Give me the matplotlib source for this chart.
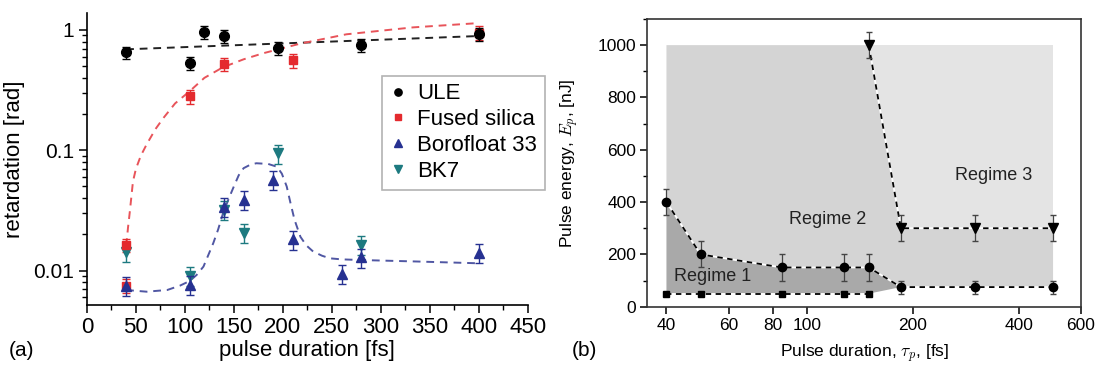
import numpy as np
import matplotlib.pyplot as plt
from matplotlib.ticker import FixedLocator, MultipleLocator, NullFormatter, LogLocator

plt.rcParams['font.family'] = ['Liberation Sans', 'DejaVu Sans']
plt.rcParams['mathtext.fontset'] = 'cm'

# ---- (a) retardation vs pulse duration ----
ule_x = [40, 105, 120, 140, 195, 280, 400]
ule_y = [0.65, 0.53, 0.96, 0.89, 0.71, 0.75, 0.92]
fs_x = [40, 40, 105, 140, 210, 400]
fs_y = [0.0163, 0.0075, 0.28, 0.52, 0.56, 0.95]
boro_x = [40, 105, 140, 160, 190, 210, 260, 280, 400]
boro_y = [0.0075, 0.0076, 0.034, 0.0386, 0.0567, 0.0182, 0.0094, 0.0129, 0.0141]
bk7_x = [40, 105, 140, 160, 195, 280]
bk7_y = [0.0144, 0.0091, 0.032, 0.0207, 0.094, 0.0163]

# fit curves
ule_fit_x = [40, 400]
ule_fit_y = [0.69, 0.89]
fs_fit_x = [40, 41, 42, 43, 44, 45.5, 47, 50, 55, 61, 70, 78, 90, 105, 120, 139, 160, 180, 218, 265, 333, 400]
fs_fit_y = [0.016, 0.019, 0.023, 0.027, 0.032, 0.042, 0.055, 0.07, 0.09, 0.112, 0.15, 0.185, 0.245, 0.31,
            0.40, 0.49, 0.57, 0.64, 0.77, 0.92, 1.05, 1.14]
boro_fit_x = [40, 61, 82, 95, 105, 112, 119, 124, 129, 134, 139, 145, 150, 155, 160, 167, 173, 185, 194,
              199, 204, 208, 212, 218, 224, 231, 240, 248, 260, 279, 337, 400]
boro_fit_y = [0.0069, 0.00668, 0.0069, 0.0075, 0.0082, 0.0092, 0.0108, 0.0135, 0.0169, 0.022, 0.030, 0.040,
              0.050, 0.062, 0.071, 0.076, 0.078, 0.077, 0.073, 0.064, 0.050, 0.036, 0.0264, 0.0191, 0.0162,
              0.0144, 0.0133, 0.01265, 0.0124, 0.01225, 0.0119, 0.0115]

# ---- (b) regime map ----
tau_low = [40, 50, 85, 128, 150]
E_low = [50, 50, 50, 50, 50]
tau_up = [40, 50, 85, 128, 150, 185, 300, 500]
E_up = [400, 200, 150, 150, 150, 75, 75, 75]
err_up = [50, 50, 50, 50, 50, 25, 25, 25]
tau_r3 = [150, 185, 300, 500]
E_r3 = [1000, 300, 300, 300]
err_r3 = [50, 50, 50, 50]

fig = plt.figure(figsize=(10.99, 3.67), dpi=100)

# ================= panel (a) =================
ax = fig.add_axes([0.0791, 0.169, 0.401, 0.795])
c_red = '#e42a2e'
c_blue = '#263191'
c_teal = '#1d7a80'

ax.plot(ule_fit_x, ule_fit_y, color='#222222', lw=1.4, dashes=(4, 3))
ax.plot(fs_fit_x, fs_fit_y, color='#e8545a', lw=1.4, dashes=(4, 3))
ax.plot(boro_fit_x, boro_fit_y, color='#5057a3', lw=1.4, dashes=(4, 3))

ule_y = np.array(ule_y)
fs_y = np.array(fs_y)
boro_y = np.array(boro_y)
bk7_y = np.array(bk7_y)
ax.errorbar(bk7_x, bk7_y, yerr=0.18 * bk7_y, fmt='v', color=c_teal, ms=7.5, capsize=3, elinewidth=1,
            label='BK7', zorder=3)
ax.errorbar(boro_x, boro_y, yerr=0.18 * boro_y, fmt='^', color=c_blue, ms=7.5, capsize=3, elinewidth=1,
            label='Borofloat 33', zorder=4)
ax.errorbar(fs_x, fs_y, yerr=0.13 * fs_y, fmt='s', color=c_red, ms=6, capsize=3, elinewidth=1,
            label='Fused silica', zorder=3)
ax.errorbar(ule_x, ule_y, yerr=0.12 * ule_y, fmt='o', color='black', ms=7, capsize=3, elinewidth=1,
            label='ULE', zorder=5)

ax.set_yscale('log')
ax.set_xlim(0, 450)
ax.set_ylim(0.00518, 1.377)
ax.xaxis.set_major_locator(MultipleLocator(50))
ax.xaxis.set_minor_locator(MultipleLocator(25))
ax.yaxis.set_major_locator(FixedLocator([0.01, 0.1, 1]))
ax.yaxis.set_minor_locator(LogLocator(base=10, subs=np.arange(2, 10)))
ax.yaxis.set_minor_formatter(NullFormatter())
ax.set_yticklabels(['0.01', '0.1', '1'])
ax.spines['top'].set_visible(False)
ax.spines['right'].set_visible(False)
for s in ['left', 'bottom']:
    ax.spines[s].set_linewidth(1.2)
ax.tick_params(which='major', length=6, width=1.1, labelsize=16, pad=3)
ax.tick_params(which='minor', length=3.5, width=1)
ax.tick_params(axis='y', labelsize=15)
ax.set_xlabel('pulse duration [fs]', fontsize=16, labelpad=1)
ax.set_ylabel('retardation [rad]', fontsize=16)
ax.yaxis.set_label_coords(-0.14, 0.5)

handles, labels = ax.get_legend_handles_labels()
order = [3, 2, 1, 0]
leg = ax.legend([handles[i][0] for i in order], [labels[i] for i in order], loc='upper left',
                bbox_to_anchor=(0.348, 0.794), bbox_transform=fig.transFigure, borderaxespad=0,
                fontsize=16, frameon=True, fancybox=False, handlelength=0.7, handletextpad=0.5,
                labelspacing=0.22, borderpad=0.35, markerscale=0.75)
leg.get_frame().set_edgecolor('#a0a0a0')
leg.get_frame().set_linewidth(1.2)

fig.text(0.008, 0.03, '(a)', fontsize=15)

# ================= panel (b) =================
bx = fig.add_axes([0.589, 0.1643, 0.3946, 0.784])

top = E_r3[0]
r1_x = tau_up[:6] + [tau_low[-1], tau_low[0]]
r1_y = E_up[:6] + [E_low[-1], E_low[0]]
r2_x = [tau_up[0], tau_r3[0]] + tau_r3[1:] + tau_up[::-1]
r2_y = [top, top] + E_r3[1:] + E_up[::-1]
r3_x = [tau_r3[0], tau_r3[-1]] + tau_r3[::-1][:-1]
r3_y = [top, top] + E_r3[::-1][:-1]
bx.fill(r3_x, r3_y, color='#e4e4e4', lw=0, zorder=0)
bx.fill(r2_x, r2_y, color='#d4d4d4', lw=0, zorder=0)
bx.fill(r1_x, r1_y, color='#a9a9a9', lw=0, zorder=1)

for xs, ys in [(tau_low, E_low), (tau_up, E_up), (tau_r3, E_r3)]:
    bx.plot(xs, ys, color='white', lw=1.3, zorder=2)
    bx.plot(xs, ys, color='black', lw=1.3, dashes=(3, 2.5), zorder=3)

bx.errorbar(tau_up, E_up, yerr=err_up, fmt='none', ecolor='#444444', elinewidth=0.9, capsize=2.5, zorder=4)
bx.errorbar(tau_r3, E_r3, yerr=err_r3, fmt='none', ecolor='#444444', elinewidth=0.9, capsize=2.5, zorder=4)
bx.plot(tau_low, E_low, 's', color='black', ms=5, zorder=5)
bx.plot(tau_up, E_up, 'o', color='black', ms=6, zorder=5)
bx.plot(tau_r3, E_r3, 'v', color='black', ms=6.5, zorder=5)

bx.text(54, 117, 'Regime 1', fontsize=13, ha='center', va='center', color='#222222')
bx.text(115, 333, 'Regime 2', fontsize=13, ha='center', va='center', color='#222222')
bx.text(339, 500, 'Regime 3', fontsize=13, ha='center', va='center', color='#222222')

bx.set_xscale('log')
bx.set_xlim(35.3, 600)
bx.set_ylim(0, 1100)
bx.xaxis.set_major_locator(FixedLocator([40, 60, 80, 100, 200, 400, 600]))
bx.xaxis.set_minor_locator(FixedLocator([]))
bx.set_xticklabels(['40', '60', '80', '100', '200', '400', '600'])
bx.yaxis.set_major_locator(MultipleLocator(200))
bx.yaxis.set_minor_locator(MultipleLocator(100))
for s in bx.spines.values():
    s.set_linewidth(1.2)
    s.set_color('#333333')
bx.tick_params(which='major', length=5, width=1.1, labelsize=12.5, pad=3)
bx.tick_params(which='minor', length=3, width=1)
bx.set_xlabel(r'Pulse duration, $\tau_p$, [fs]', fontsize=12.5, labelpad=7)
bx.set_ylabel(r'Pulse energy, $E_p$, [nJ]', fontsize=12.5)
bx.yaxis.set_label_coords(-0.153, 0.5)

fig.text(0.52, 0.03, '(b)', fontsize=15)

fig.savefig('out.png', dpi=100)
